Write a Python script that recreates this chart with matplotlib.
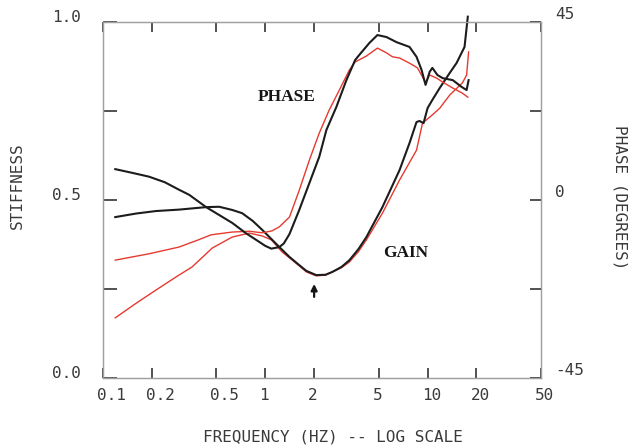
import matplotlib
matplotlib.use("Agg")
import matplotlib.pyplot as plt
from matplotlib.transforms import ScaledTranslation

# ---------------- data ----------------
x_ticks = [0.1, 0.2, 0.5, 1, 2, 5, 10, 20, 50]
x_tick_labels = ["0.1", "0.2", "0.5", "1", "2", "5", "10", "20", "50"]
stiff_ticks = [0.0, 0.25, 0.5, 0.75, 1.0]
stiff_tick_labels = ["0.0", "", "0.5", "", "1.0"]
phase_ticks = [-45, -22.5, 0, 22.5, 45]
phase_tick_labels = ["-45", "", "0", "", "45"]

# gain (stiffness) - black
black_gain_f = [0.119, 0.16, 0.212, 0.294, 0.432, 0.52, 0.626, 0.72, 0.838, 0.958,
                1.06, 1.22, 1.41, 1.62, 1.79, 2.06, 2.35, 2.59, 2.95, 3.30,
                3.75, 4.20, 5.27, 6.72, 7.74, 8.55, 8.92, 9.45, 10.0, 10.7,
                11.9, 13.7, 15.1, 16.9, 17.7]
black_gain = [0.452, 0.462, 0.469, 0.473, 0.480, 0.481, 0.472, 0.463, 0.441, 0.416,
              0.396, 0.368, 0.340, 0.317, 0.301, 0.289, 0.290, 0.298, 0.312, 0.331,
              0.362, 0.396, 0.480, 0.584, 0.660, 0.719, 0.722, 0.716, 0.758, 0.781,
              0.815, 0.857, 0.885, 0.930, 1.015]

# gain (stiffness) - red
red_gain_f = [0.119, 0.16, 0.212, 0.28, 0.354, 0.471, 0.626, 0.797, 0.958, 1.09,
              1.27, 1.45, 1.62, 1.79, 2.06, 2.35, 2.59, 2.95, 3.30, 3.75,
              4.20, 5.27, 6.72, 8.55, 9.31, 10.7, 11.9, 13.7, 16.4, 17.4,
              17.9]
red_gain = [0.169, 0.210, 0.247, 0.283, 0.312, 0.365, 0.396, 0.407, 0.399, 0.388,
            0.354, 0.333, 0.315, 0.298, 0.287, 0.289, 0.298, 0.310, 0.326, 0.355,
            0.388, 0.463, 0.556, 0.640, 0.716, 0.739, 0.758, 0.795, 0.829, 0.851,
            0.916]

# phase (degrees) - black
black_phase_f = [0.119, 0.15, 0.192, 0.24, 0.294, 0.34, 0.432, 0.626, 0.76, 0.880,
                 1.0, 1.09, 1.22, 1.30, 1.41, 1.62, 1.87, 2.15, 2.38, 2.74,
                 3.16, 3.58, 3.80, 4.38, 4.91, 5.58, 6.44, 7.74, 8.55, 9.18,
                 9.72, 10.3, 10.7, 11.5, 12.4, 14.3, 16.2, 17.4, 17.9]
black_phase = [7.8, 6.9, 5.9, 4.5, 2.6, 1.3, -1.8, -5.8, -8.4, -10.1,
               -11.6, -12.3, -11.9, -11.0, -8.6, -2.5, 4.3, 10.9, 17.7, 23.5,
               30.3, 35.4, 36.7, 39.7, 41.7, 41.2, 39.9, 38.7, 36.2, 32.9,
               29.1, 32.4, 33.4, 31.6, 30.8, 30.3, 28.6, 27.8, 30.3]

# phase (degrees) - red
red_phase_f = [0.119, 0.192, 0.294, 0.38, 0.464, 0.626, 0.80, 0.958, 1.1, 1.22,
               1.41, 1.62, 1.87, 2.15, 2.48, 2.86, 3.30, 3.58, 4.20, 4.91,
               5.58, 6.08, 6.72, 7.74, 8.67, 9.31, 9.72, 10.3, 11.4, 12.4,
               14.3, 16.4, 17.7]
red_phase = [-15.2, -13.6, -11.9, -10.2, -8.8, -8.1, -7.9, -8.3, -7.8, -6.8,
             -4.3, 2.5, 10.1, 16.9, 22.8, 27.8, 32.9, 34.9, 36.4, 38.4,
             37.2, 36.2, 35.9, 34.6, 33.4, 31.1, 29.6, 31.6, 30.8, 29.8,
             28.3, 27.0, 26.0]

# ---------------- figure ----------------
mono = "DejaVu Sans Mono"
txt_col = "#3a3a3a"
black = "#1c1c1c"
red = "#e53a30"

fig = plt.figure(figsize=(6.29, 4.45), dpi=100)
ax = fig.add_axes([0.16375, 0.15056, 0.69634, 0.8])
ax2 = ax.twinx()

ax.set_xscale("log")
ax.set_xlim(0.1, 50)
ax.set_ylim(0, 1)
ax2.set_ylim(-45, 45)

ax.plot(black_gain_f, black_gain, color=black, lw=1.5, clip_on=False, zorder=3,
        solid_joinstyle="round")
ax.plot(red_gain_f, red_gain, color=red, lw=1.0, zorder=2, solid_joinstyle="round")
ax2.plot(red_phase_f, red_phase, color=red, lw=1.0, zorder=2, solid_joinstyle="round")
ax2.plot(black_phase_f, black_phase, color=black, lw=1.5, zorder=3,
         solid_joinstyle="round")

# spines
for a in (ax, ax2):
    for s in a.spines.values():
        s.set_color("#a0a0a0")
        s.set_linewidth(0.9)

# x ticks
ax.xaxis.set_minor_locator(matplotlib.ticker.NullLocator())
ax.set_xticks(x_ticks)
ax.tick_params(axis="x", which="major", direction="in", length=7, width=1.2,
               color="#333333", top=True, bottom=True, pad=7,
               labelsize=11.5, labelcolor=txt_col)
ax.set_xticklabels(x_tick_labels, family=mono, ha="left")
for lbl in ax.get_xticklabels():
    lbl.set_transform(lbl.get_transform() + ScaledTranslation(-6 / 100, 0, fig.dpi_scale_trans))

# left y ticks
ax.set_yticks(stiff_ticks)
ax.tick_params(axis="y", direction="in", length=10, width=1.2, color="#333333",
               pad=16, labelsize=11.5, labelcolor=txt_col)
ax.set_yticklabels(stiff_tick_labels, family=mono, va="baseline")

# right y ticks
ax2.set_yticks(phase_ticks)
ax2.tick_params(axis="y", direction="in", length=8, width=1.2, color="#333333",
                pad=10, labelsize=11.5, labelcolor=txt_col)
ax2.set_yticklabels(phase_tick_labels, family=mono, va="bottom")

# axis labels
ax.set_ylabel("STIFFNESS", family=mono, fontsize=11.5, color=txt_col)
ax.yaxis.set_label_coords(-0.178, 0.539)
ax2.set_ylabel("PHASE (DEGREES)", family=mono, fontsize=11.5, color=txt_col,
               rotation=-90, va="center")
ax2.yaxis.set_label_coords(1.18, 0.508)
ax.set_xlabel("FREQUENCY (HZ) -- LOG SCALE", family=mono, fontsize=11.5,
              color=txt_col, va="center")
ax.xaxis.set_label_coords(0.525, -0.166)

# annotations
ax.text(1.35, 0.789, "PHASE", family="Liberation Serif", weight="bold",
        fontsize=12.5, ha="center", va="center", color="#151515")
ax.text(7.31, 0.351, "GAIN", family="Liberation Serif", weight="bold",
        fontsize=12.5, ha="center", va="center", color="#151515")
ax.annotate("", xy=(2.0, 0.272), xytext=(2.0, 0.220),
            arrowprops=dict(arrowstyle="-|>", color="#151515", lw=1.6,
                            mutation_scale=9))

fig.savefig("out.png", dpi=100, facecolor="white")
